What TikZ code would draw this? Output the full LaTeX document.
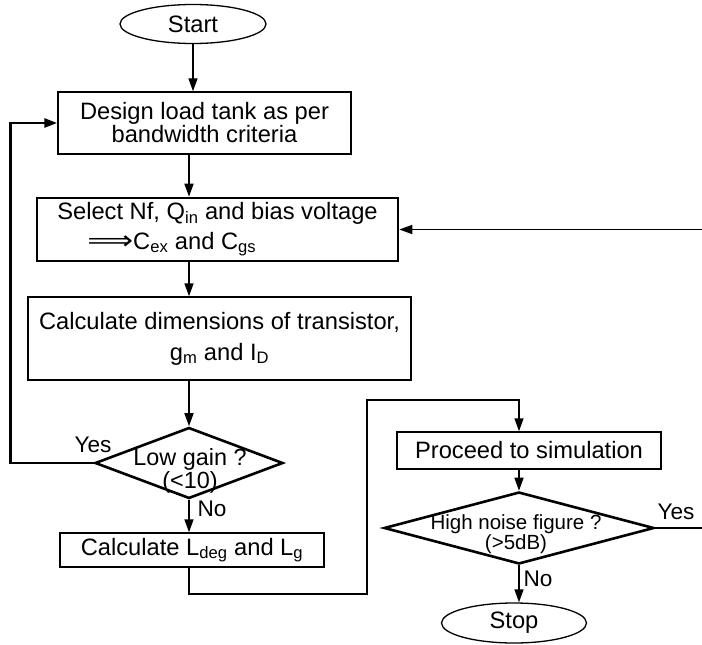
\documentclass[tikz,border=0pt]{standalone}
\usepackage{fontspec}
\setmainfont{Liberation Sans}
\newfontfamily\arrowfont{DejaVu Sans}
\usetikzlibrary{%
	arrows.meta,%
	shapes.geometric,%
	positioning,%
}
\tikzset{
	>={Triangle[length=13pt,width=9pt]},%
	nodes={align=center},%
	procbox/.style={%
			draw,%
			rectangle,%
			line width=1.5pt,%
			inner sep=0pt},%
	keybox/.style={%
			procbox,%
			line width=2.6pt},%
	terminal/.style={%
			draw,%
			ellipse,%
			line width=1.3pt,%
			inner sep=0pt,%
			minimum width=146,%
			minimum height=39},%
	decision/.style={%
			draw,%
			diamond,%
			line width=2.6pt,%
			inner sep=0pt},%
	tag/.style={%
			inner sep=0pt,%
			font={\fontsize{22.6}{24}\selectfont}},%
}

\begin{document}
\begin{tikzpicture}[x=1pt, y=-1pt, line width=1.6pt, nodes={font={\fontsize{23.7}{23}\selectfont}}]%
	\useasboundingbox (0,0) rectangle (702,645);
	\clip (0,0) rectangle (702,645);

	\node[terminal] (start) at (193,24) {Start};

	\node[procbox, minimum width=293, minimum height=62] (design) at (204.5,123)
		{Design load tank as per\\bandwidth criteria};

	\node[keybox, minimum width=361, minimum height=63, align=left,
		font={\fontsize{23.7}{29.5}\selectfont}] (select) at (217.5,229.5)
		{Select Nf, Q\textsubscript{in} and bias voltage\\
		\hspace*{30pt}\scalebox{1.35}[1.1]{\arrowfont ⟹}C\textsubscript{ex} and C\textsubscript{gs}};

	\node[procbox, minimum width=383, minimum height=83,
		font={\fontsize{23.7}{31}\selectfont}] (dims) at (219.5,338.5)
		{Calculate dimensions of transistor,\\g\textsubscript{m} and I\textsubscript{D}};

	\node[decision, minimum width=188, minimum height=71] (gain) at (189,463) {};
	\node[font={\fontsize{23.4}{21}\selectfont}] (gaintxt) at (190,471) {Low gain ?\\(<10)};

	\node[procbox, minimum width=264, minimum height=34] (lcalc) at (192,550)
		{Calculate L\textsubscript{deg} and L\textsubscript{g}};

	\node[procbox, minimum width=264, minimum height=37] (proceed) at (529,450.5)
		{Proceed to simulation};

	\node[decision, minimum width=270, minimum height=72] (noise) at (519,528) {};
	\node[font={\fontsize{20.5}{17.5}\selectfont}] (noisetxt) at (516,534)
		{High noise figure ?\\(>5dB)};

	\node[terminal, minimum width=145, minimum height=40] (stop) at (514,623) {Stop};

	\node[tag] (gainyes) at (93,445) {Yes};
	\node[tag] (gainno) at (212,509) {No};
	\node[tag] (noiseyes) at (676,512) {Yes};
	\node[tag] (noiseno) at (538,579) {No};

	\coordinate (jog) at (367,400);

	% main column
	\draw[->] (start) -- (start |- design.north);
	\draw[->] (design.south -| gain.north) -- (select.north -| gain.north);
	\draw[->] (select.south -| gain.north) -- (dims.north -| gain.north);
	\draw[->] (dims.south -| gain.north) -- (gain.north);
	\draw[->] (gain.south) -- (lcalc.north -| gain.south);

	% loop back for low gain
	\draw[->, line width=2.6pt] (gain.west) -- ++(-83,0) |- (design.west);

	\draw[->] (lcalc.south -| gain.south) -- ++(0,26) -| (jog) -| (proceed.north -| noise.north);
	\draw[->] (proceed.south -| noise.north) -- (noise.north);
	\draw[->] (noise.south) -- (stop.north -| noise.south);

	% loop back for high noise figure
	\draw[->] (noise.east) -- ++(60,0) |- (select.east);
\end{tikzpicture}
\end{document}
